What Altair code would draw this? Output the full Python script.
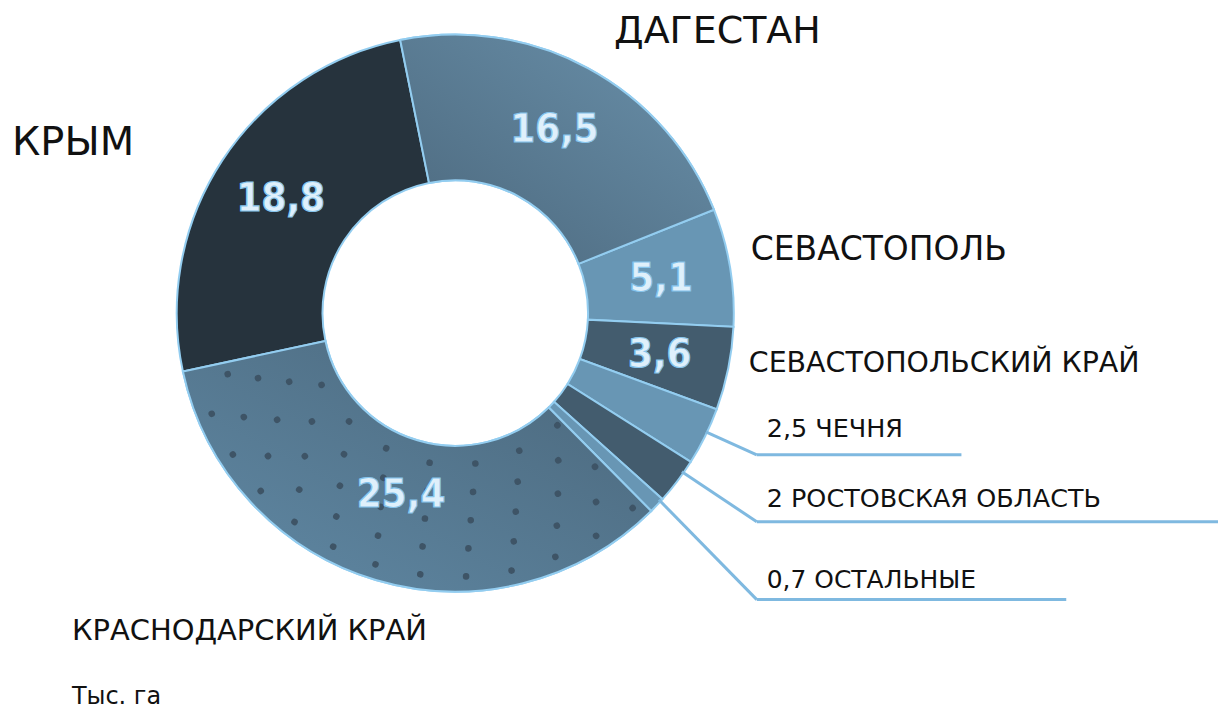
import math
import altair as alt
import pandas as pd

# ---- data (thousand hectares) ----
regions = ["ДАГЕСТАН", "СЕВАСТОПОЛЬ", "СЕВАСТОПОЛЬСКИЙ КРАЙ", "ЧЕЧНЯ",
           "РОСТОВСКАЯ ОБЛАСТЬ", "ОСТАЛЬНЫЕ", "КРАСНОДАРСКИЙ КРАЙ", "КРЫМ"]
values = [16.5, 5.1, 3.6, 2.5, 2.0, 0.7, 25.4, 18.8]
order = [1, 2, 3, 4, 5, 6, 7, 8]
colors = ["#5b7e96", "#6896b4", "#435c6e", "#6896b4", "#435c6e", "#6896b4",
          "#577b93", "#26333d"]
unit_label = "Тыс. га"


def fmt(v):
    return ("%g" % v).replace(".", ",")


df = pd.DataFrame({"region": regions, "value": values, "ord": order})
df["lab"] = [fmt(v) for v in values]

TOTAL = sum(values)
START = -0.199  # rotation of the first slice (radians)
CX, CY = 448, 305
R_IN, R_OUT = 133, 279

theta_scale = alt.Scale(domain=[0, TOTAL], range=[START, START + 2 * math.pi])

base = (
    alt.Chart(df)
    .transform_window(cum="sum(value)", sort=[alt.SortField("ord")], frame=[None, 0])
    .transform_calculate(start="datum.cum - datum.value",
                         mid="datum.cum - datum.value / 2")
)

ring_stroke = "#93cdf0"

arcs = base.mark_arc(innerRadius=R_IN, outerRadius=R_OUT, stroke=ring_stroke,
                     strokeWidth=2).encode(
    theta=alt.Theta("start:Q", scale=theta_scale),
    theta2="cum:Q",
    fill=alt.Fill("region:N", scale=alt.Scale(domain=regions, range=colors), legend=None),
    x=alt.value(CX), y=alt.value(CY),
)

dag_grad = base.transform_filter(alt.datum.region == regions[0]).mark_arc(
    innerRadius=R_IN, outerRadius=R_OUT, stroke=ring_stroke, strokeWidth=2,
    fill=alt.Gradient(gradient="linear", x1=1, y1=0, x2=0, y2=1,
                      stops=[alt.GradientStop(color="#6a91ab", offset=0),
                             alt.GradientStop(color="#4b677c", offset=1)]),
).encode(theta=alt.Theta("start:Q", scale=theta_scale), theta2="cum:Q",
         x=alt.value(CX), y=alt.value(CY))

kr_grad = base.transform_filter(alt.datum.region == regions[6]).mark_arc(
    innerRadius=R_IN, outerRadius=R_OUT, stroke=ring_stroke, strokeWidth=2,
    fill=alt.Gradient(gradient="linear", x1=0, y1=1, x2=1, y2=0,
                      stops=[alt.GradientStop(color="#6089a5", offset=0),
                             alt.GradientStop(color="#4a667a", offset=1)]),
).encode(theta=alt.Theta("start:Q", scale=theta_scale), theta2="cum:Q",
         x=alt.value(CX), y=alt.value(CY))

# dotted texture on the Krasnodar slice (decoration only): tiny rounded arcs
kr_start = sum(values[:6])
kr_end = kr_start + values[6]
units_per_rad = TOTAL / (2 * math.pi)
DOT = 3.3
dots = (
    alt.Chart(alt.sequence(0, 200, as_="k"))
    .transform_calculate(row="datum.k % 5", col="floor(datum.k / 5)")
    .transform_calculate(r="152 + 28 * datum.row")
    .transform_calculate(
        th=f"{kr_start} + 0.5 + (datum.col + (datum.row % 2) * 0.5) * 46 / datum.r * {units_per_rad}")
    .transform_filter(f"datum.th < {kr_end} - 0.5")
    .transform_calculate(
        th1=f"datum.th - {DOT} / datum.r * {units_per_rad}",
        th2=f"datum.th + {DOT} / datum.r * {units_per_rad}",
        r1=f"datum.r - {DOT}", r2=f"datum.r + {DOT}")
    .mark_arc(color="#3e5466", cornerRadius=DOT)
    .encode(theta=alt.Theta("th1:Q", scale=theta_scale), theta2="th2:Q",
            radius=alt.Radius("r1:Q", scale=None), radius2="r2:Q",
            x=alt.value(CX), y=alt.value(CY))
)

num_font = "Liberation Sans Narrow, DejaVu Sans Condensed, Roboto Condensed, DejaVu Sans, sans-serif"
numbers = base.transform_filter(alt.datum.value >= 3).transform_calculate(
    lr="datum.value > 20 ? 190 : 209"
).mark_text(
    font=num_font, fontSize=40, fontWeight="bold",
    fill="#dff0fb", stroke="#86c4ec", strokeWidth=1.2,
    align="center", baseline="middle",
).encode(theta=alt.Theta("mid:Q", scale=theta_scale), text="lab:N",
         radius=alt.Radius("lr:Q", scale=None),
         x=alt.value(CX), y=alt.value(CY))

LABEL_FONT = "DejaVu Sans"


def label(text, x, y, size):
    return alt.Chart(pd.DataFrame({"t": [text]})).mark_text(
        font=LABEL_FONT, fontSize=size, color="#111111", align="left",
        baseline="alphabetic").encode(text="t:N", x=alt.value(x), y=alt.value(y))


def rule(x, y, x2, y2):
    return alt.Chart(pd.DataFrame({"t": [0]})).mark_rule(
        color="#7fb9e0", strokeWidth=3).encode(
        x=alt.value(x), y=alt.value(y), x2=alt.value(x2), y2=alt.value(y2))


labels = [
    label(regions[7], 4, 147, 40),
    label(regions[0], 607, 34, 38),
    label(regions[1], 744, 252, 33),
    label(regions[2], 742, 364, 28.5),
    label(f"{fmt(values[3])} {regions[3]}", 760, 429, 25.5),
    label(f"{fmt(values[4])} {regions[4]}", 760, 499, 25.5),
    label(f"{fmt(values[5])} {regions[5]}", 760, 580, 25),
    label(regions[6], 64, 632, 29),
    label(unit_label, 64, 697, 24),
]

leaders = [
    rule(699, 424, 750, 447), rule(750, 447, 955, 447),
    rule(675, 464, 750, 514), rule(750, 514, 1212, 514),
    rule(652, 492, 750, 592), rule(750, 592, 1060, 592),
]

chart = alt.layer(arcs, dag_grad, kr_grad, dots, numbers, *leaders, *labels).properties(
    width=1210, height=695, padding=0
).configure_view(strokeWidth=0)

chart.save("out.html", embed_options={"renderer": "svg", "actions": False})
